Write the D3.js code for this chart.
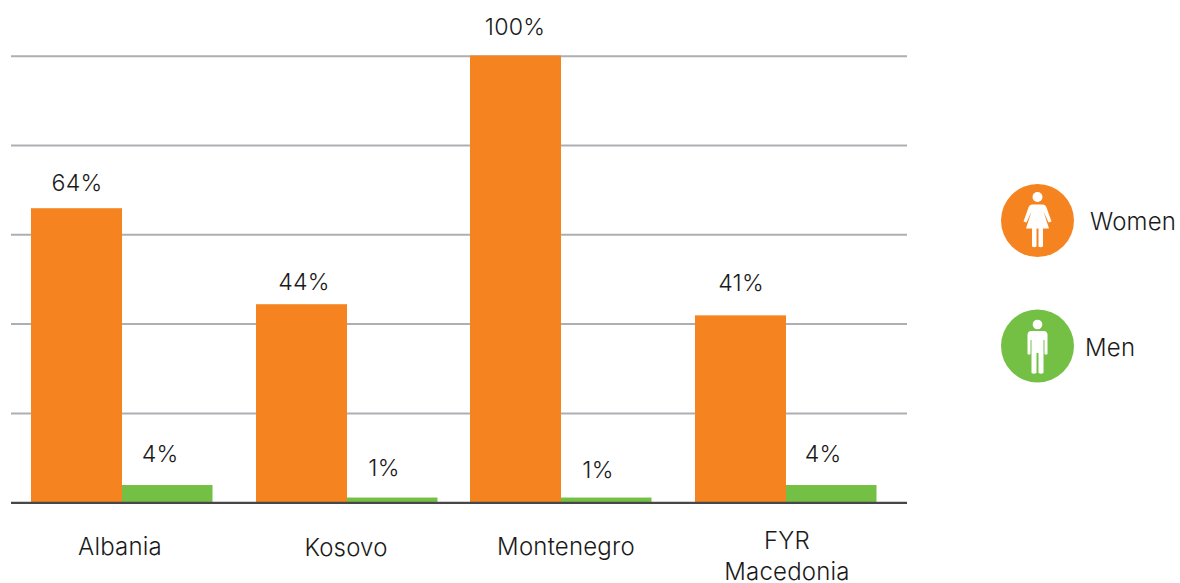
<!DOCTYPE html>
<html><head><meta charset="utf-8">
<script src="https://cdn.jsdelivr.net/npm/d3@7/dist/d3.min.js"></script>
<style>html,body{margin:0;padding:0;background:#fff}svg{display:block}text{font-family:Inter,"Noto Sans",sans-serif;font-weight:300;fill:#1a1a1a;letter-spacing:.2px}</style>
</head><body><svg id="c" width="1180" height="583"></svg>
<script>
const categories = ["Albania","Kosovo","Montenegro","FYR Macedonia"];
const women = [65.8,44.3,100,41.8];
const men = [3.8,1,1,3.8];
const womenLabels = ["64%","44%","100%","41%"];
const menLabels = ["4%","1%","1%","4%"];
const gridTicks = [20,40,60,80,100];
const seriesNames = ["Women","Men"];
const orange = "#f58420", green = "#74c044";

const svg = d3.select("#c");
const y = d3.scaleLinear().domain([0,100]).range([502,55.5]);
const x0 = d3.scaleOrdinal().domain(categories).range([31,256,470,695]);
const barW = 91, barM = 90.5;

svg.append("g").selectAll("line").data(gridTicks).join("line")
  .attr("x1",11).attr("x2",907).attr("y1",d=>y(d)+.7).attr("y2",d=>y(d)+.7)
  .attr("stroke","#adafb2").attr("stroke-width",2);

svg.append("g").selectAll("rect").data(categories).join("rect")
  .attr("x",d=>x0(d)).attr("width",barW)
  .attr("y",(d,i)=>y(women[i])).attr("height",(d,i)=>y(0)-y(women[i])).attr("fill",orange);
svg.append("g").selectAll("rect").data(categories).join("rect")
  .attr("x",d=>x0(d)+barW).attr("width",barM)
  .attr("y",(d,i)=>y(men[i])).attr("height",(d,i)=>y(0)-y(men[i])).attr("fill",green);

svg.append("line").attr("x1",11).attr("x2",907).attr("y1",y(0)+.9).attr("y2",y(0)+.9)
  .attr("stroke","#47474a").attr("stroke-width",2.4);

const fs = 24, fsNum = 23.2;
const wBase = [191,290,35,291], mBase=[462,476,478,462];
const wDx=[46,48,45,46], mDx=[129,128,128,128];
svg.append("g").selectAll("text").data(womenLabels).join("text")
  .attr("x",(d,i)=>x0(categories[i])+wDx[i]).attr("y",(d,i)=>wBase[i])
  .attr("text-anchor","middle").attr("font-size",fsNum).text(d=>d);
svg.append("g").selectAll("text").data(menLabels).join("text")
  .attr("x",(d,i)=>x0(categories[i])+mDx[i]).attr("y",(d,i)=>mBase[i])
  .attr("text-anchor","middle").attr("font-size",fsNum).text(d=>d);

const catX=[120,346,566,787], catY=[555,556,555,549];
const cat = svg.append("g").selectAll("text").data(categories).join("text")
  .attr("text-anchor","middle").attr("font-size",fs)
  .attr("transform",(d,i)=>`translate(${catX[i]},${catY[i]})`);
cat.each(function(d){
  const parts = d==="FYR Macedonia"?["FYR","Macedonia"]:[d];
  d3.select(this).selectAll("tspan").data(parts).join("tspan")
    .attr("x",0).attr("dy",(p,i)=>i?31:0).text(p=>p);
});

// legend
const leg = svg.append("g");
const legY=[220.5,346], legTx=[1090,1085], legTy=[230,356];
seriesNames.forEach((n,i)=>{
  const g = leg.append("g").attr("transform",`translate(1037.5,${legY[i]})`);
  g.append("circle").attr("r",36.5).attr("fill",i?green:orange);
  g.append("circle").attr("cy",i?-21.5:-23.5).attr("r",i?4.8:5).attr("fill","#fff");
  if(i===0){
    g.append("path").attr("fill","#fff").attr("d",
     "M-5,-16 L5,-16 Q8,-16 9,-13 L14,1 L11,2 L6,-9 L11.5,8 L5.5,8 L5.5,26 Q3,27.5 1,26 L1,8 L-1,8 L-1,26 Q-3,27.5 -5.5,26 L-5.5,8 L-11.5,8 L-6,-9 L-11,2 L-14,1 L-9,-13 Q-8,-16 -5,-16 Z");
  } else {
    g.append("path").attr("fill","#fff").attr("d",
     "M-6,-15 L6,-15 Q10,-15 10,-11 L10,8 Q8.5,9.5 7,8 L7,-6 L6,-6 L6,27 Q3.5,28.5 1,27 L1,7 L-1,7 L-1,27 Q-3.5,28.5 -6,27 L-6,-6 L-7,-6 L-7,8 Q-8.5,9.5 -10,8 L-10,-11 Q-10,-15 -6,-15 Z");
  }
  leg.append("text").attr("x",legTx[i]).attr("y",legTy[i]).attr("font-size",fs).text(n);
});
</script></body></html>
